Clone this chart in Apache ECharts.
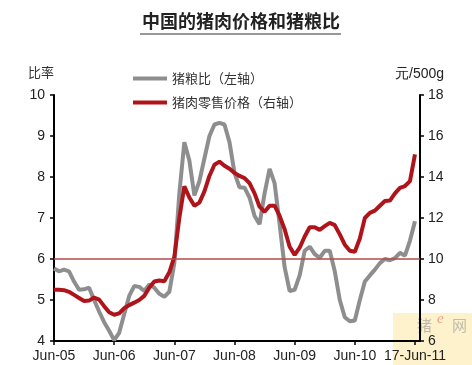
<!DOCTYPE html>
<html>
<head>
<meta charset="utf-8">
<script src="https://cdn.jsdelivr.net/npm/echarts@6/dist/echarts.min.js"></script>
<style>html,body{margin:0;padding:0;background:#fff;}#c{width:472px;height:365px;}</style>
</head>
<body>
<div id="c"></div>
<script>
// Monthly points Jun-05 .. Jun-11 (index 0..72), axis runs one extra month
var ratio = [5.77,5.70,5.74,5.70,5.45,5.25,5.26,5.30,5.00,4.72,4.46,4.25,4.02,4.20,4.65,5.10,5.34,5.32,5.22,5.38,5.30,5.15,5.08,5.20,
  5.90,7.60,8.85,8.40,7.55,7.90,8.45,9.00,9.28,9.32,9.28,8.85,8.10,7.75,7.74,7.50,7.05,6.85,7.60,8.20,7.85,6.85,5.80,5.22,
  5.25,5.60,6.20,6.30,6.12,6.03,6.20,6.20,5.70,5.00,4.58,4.48,4.50,5.00,5.45,5.60,5.74,5.90,6.00,5.97,6.02,6.15,6.08,6.45,6.92];
var price = [8.50,8.50,8.48,8.40,8.25,8.10,7.95,7.97,8.12,8.02,7.70,7.40,7.28,7.35,7.60,7.75,7.87,8.00,8.20,8.60,8.90,8.95,8.92,9.35,
  10.10,12.00,13.55,13.00,12.60,12.75,13.30,14.05,14.60,14.75,14.55,14.40,14.20,14.05,13.95,13.70,13.20,12.55,12.30,12.60,12.60,12.10,11.45,10.60,
  10.20,10.55,11.10,11.55,11.55,11.42,11.60,11.76,11.65,11.20,10.70,10.40,10.35,11.00,12.00,12.25,12.36,12.60,12.83,12.85,13.20,13.47,13.56,13.80,15.10];
var monthNames = ['Jan','Feb','Mar','Apr','May','Jun','Jul','Aug','Sep','Oct','Nov','Dec'];
var categories = [];
for (var i = 0; i < 74; i++) {
  var mi = (5 + i) % 12, yr = 5 + Math.floor((5 + i) / 12);
  categories.push(monthNames[mi] + '-' + (yr < 10 ? '0' + yr : '' + yr));
}
categories[72] = '17-Jun-11';
var refLevel = 6;
var leftAxis = {min: 4, max: 10, interval: 1};
var rightAxis = {min: 6, max: 18, interval: 2};
var seriesNames = ['猪粮比（左轴）', '猪肉零售价格（右轴）'];

var chart = echarts.init(document.getElementById('c'), null, {renderer: 'canvas'});
var labelFont = {fontFamily: 'Liberation Sans, Arial, sans-serif', fontSize: 14, color: '#222'};
chart.setOption({
  animation: false,
  backgroundColor: '#fff',
  grid: {left: 54, right: 52, top: 95, bottom: 24, containLabel: false},
  legend: {
    left: 128, top: 67, orient: 'vertical', itemWidth: 34, itemHeight: 4, itemGap: 11,
    icon: 'rect',
    textStyle: {fontFamily: 'Noto Sans CJK SC', fontSize: 13, color: '#333'},
    data: seriesNames
  },
  xAxis: {
    type: 'category', data: categories, boundaryGap: false,
    axisLine: {lineStyle: {color: '#000', width: 2}},
    axisTick: {show: true, length: 4, lineStyle: {color: '#000', width: 1.5}, interval: function (i) { return i % 12 === 0; }},
    axisLabel: Object.assign({interval: function (i) { return i % 12 === 0; }, margin: 8}, labelFont),
    splitLine: {show: false}
  },
  yAxis: [
    {type: 'value', min: leftAxis.min, max: leftAxis.max, interval: leftAxis.interval, position: 'left',
     axisLine: {show: true, lineStyle: {color: '#000', width: 2}},
     axisTick: {show: true, length: 4, lineStyle: {color: '#000', width: 1.5}},
     axisLabel: Object.assign({margin: 9}, labelFont), splitLine: {show: false}},
    {type: 'value', min: rightAxis.min, max: rightAxis.max, interval: rightAxis.interval, position: 'right',
     axisLine: {show: true, lineStyle: {color: '#000', width: 2}},
     axisTick: {show: true, length: 4, lineStyle: {color: '#000', width: 1.5}},
     axisLabel: Object.assign({margin: 8}, labelFont), splitLine: {show: false}}
  ],
  series: [
    {name: seriesNames[0], type: 'line', yAxisIndex: 0, data: ratio, showSymbol: false, symbol: 'none',
     lineStyle: {color: '#8e8e8e', width: 4}, itemStyle: {color: '#8e8e8e'}, z: 2,
     markLine: {silent: true, symbol: 'none', label: {show: false},
       lineStyle: {color: '#b54a4a', width: 1.5, type: 'solid'}, data: [{yAxis: refLevel}]}},
    {name: seriesNames[1], type: 'line', yAxisIndex: 1, data: price, showSymbol: false, symbol: 'none',
     lineStyle: {color: '#b0141b', width: 4}, itemStyle: {color: '#b0141b'}, z: 3}
  ],
  graphic: [
    {type: 'text', x: 241, y: 12, style: {text: '中国的猪肉价格和猪粮比', font: 'bold 18px "Noto Sans CJK SC"', fill: '#222', align: 'center'}},
    {type: 'line', shape: {x1: 140, y1: 34, x2: 341, y2: 34}, style: {stroke: '#333', lineWidth: 1.2}},
    {type: 'text', x: 28, y: 66, style: {text: '比率', font: '13px "Noto Sans CJK SC"', fill: '#333'}},
    {type: 'text', x: 395, y: 67, style: {text: '元/500g', font: '14px "Liberation Sans", Arial', fill: '#222'}},
    {type: 'rect', shape: {x: 393, y: 313, width: 79, height: 52}, style: {fill: 'rgba(250,226,140,0.45)'}, z: -1},
    {type: 'text', x: 417, y: 318, style: {text: '猪', font: '15px "Noto Sans CJK SC"', fill: 'rgba(150,150,150,0.6)'}, z: -1},
    {type: 'text', x: 437, y: 312, style: {text: 'e', font: 'italic 15px "Liberation Serif"', fill: 'rgba(220,80,80,0.5)'}, z: -1},
    {type: 'text', x: 452, y: 318, style: {text: '网', font: '15px "Noto Sans CJK SC"', fill: 'rgba(150,150,150,0.6)'}, z: -1}
  ]
});
</script>
</body>
</html>
